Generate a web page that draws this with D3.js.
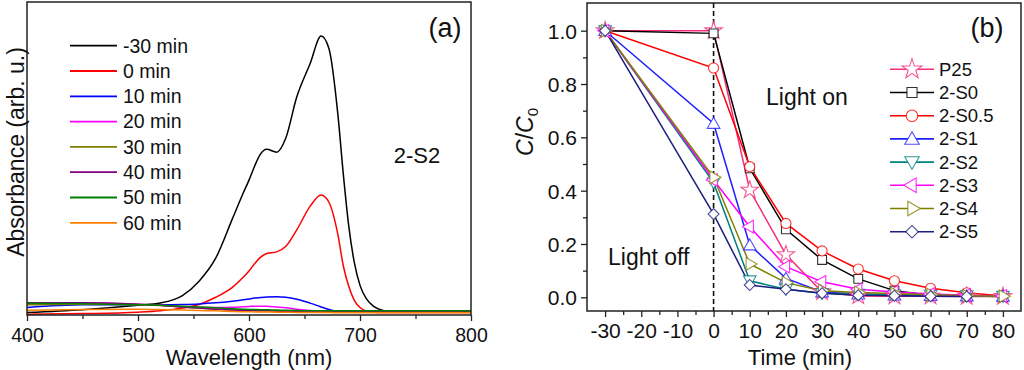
<!DOCTYPE html>
<html><head><meta charset="utf-8">
<script src="https://cdn.jsdelivr.net/npm/d3@7"></script>
<style>
html,body{margin:0;padding:0;background:#fff;}
svg text{font-family:"Liberation Sans",Arial,sans-serif;fill:#111;}
</style></head>
<body><svg id="c" width="1024" height="370"></svg>
<script>
// ---------- Panel (a) data ----------
const wavelengths = [400,450,500,520,540,555,570,585,595,600,605,610,616,625,633,643,655,665,672,680,685,690,695,700,706,712,720,730,750,800];
const specLabels = ["-30 min","0 min","10 min","20 min","30 min","40 min","50 min","60 min"];
const specColors = ["#000000","#ff0000","#0000ff","#ff00ff","#808000","#800080","#008000","#ff8000"];
const absM30 = [0.002,0.012,0.028,0.036,0.063,0.115,0.198,0.340,0.435,0.480,0.530,0.572,0.591,0.581,0.630,0.780,0.900,1.000,0.955,0.720,0.500,0.310,0.180,0.100,0.050,0.025,0.010,0.004,0.003,0.003];
const abs0   = [-0.004,-0.002,0.003,0.008,0.018,0.031,0.057,0.093,0.130,0.152,0.178,0.200,0.215,0.221,0.240,0.300,0.385,0.426,0.400,0.285,0.170,0.095,0.045,0.020,0.007,0.003,0.002,0.002,0.002,0.002];
const abs10  = [0.020,0.030,0.030,0.030,0.031,0.033,0.037,0.043,0.048,0.051,0.054,0.056,0.058,0.059,0.057,0.050,0.036,0.022,0.013,0.006,0.004,0.003,0.003,0.003,0.003,0.003,0.003,0.003,0.003,0.003];
const abs20  = [0.033,0.035,0.032,0.028,0.022,0.020,0.020,0.021,0.023,0.024,0.025,0.025,0.025,0.022,0.019,0.014,0.009,0.006,0.005,0.004,0.003,0.003,0.003,0.003,0.003,0.003,0.003,0.003,0.003,0.003];
const abs30  = [0.030,0.032,0.030,0.027,0.022,0.018,0.015,0.012,0.011,0.010,0.010,0.009,0.009,0.008,0.007,0.006,0.005,0.005,0.004,0.004,0.004,0.004,0.004,0.004,0.004,0.004,0.004,0.004,0.004,0.004];
const abs40  = [0.037,0.037,0.032,0.028,0.022,0.018,0.014,0.011,0.010,0.009,0.009,0.008,0.008,0.007,0.006,0.005,0.005,0.004,0.004,0.004,0.004,0.004,0.004,0.004,0.004,0.004,0.004,0.004,0.004,0.004];
const abs50  = [0.035,0.034,0.030,0.028,0.025,0.022,0.019,0.016,0.014,0.013,0.013,0.012,0.012,0.011,0.010,0.009,0.008,0.008,0.008,0.008,0.008,0.008,0.008,0.008,0.008,0.008,0.008,0.008,0.008,0.008];
const abs60  = [0.010,0.013,0.014,0.013,0.011,0.009,0.008,0.006,0.005,0.005,0.004,0.004,0.004,0.003,0.003,0.002,0.002,0.002,0.002,0.001,0.001,0.001,0.001,0.001,0.001,0.001,0.001,0.001,0.001,0.001];
const specSeries = [absM30,abs0,abs10,abs20,abs30,abs40,abs50,abs60];
const wlTicks = [400,500,600,700,800];
const wlMinor = [450,550,650,750];

// ---------- Panel (b) data ----------
const times = [-30,0,10,20,30,40,50,60,70,80];
const sampleNames = ["P25","2-S0","2-S0.5","2-S1","2-S2","2-S3","2-S4","2-S5"];
const sampleColors = ["#f72c7a","#000000","#ff0000","#2020ff","#008080","#ff00ff","#808000","#1c1c80"];
const cP25  = [1.0,1.0,0.402,0.160,0.020,0.005,0.004,0.004,0.003,0.003];
const cS0   = [1.0,0.99,0.484,0.255,0.140,0.069,0.025,0.008,0.005,0.003];
const cS05  = [1.0,0.86,0.490,0.277,0.174,0.106,0.062,0.034,0.017,0.005];
const cS1   = [1.0,0.652,0.196,0.071,0.020,0.012,0.008,0.006,0.005,0.004];
const cS2   = [1.0,0.430,0.062,0.030,0.015,0.012,0.010,0.008,0.006,0.004];
const cS3   = [1.0,0.440,0.265,0.115,0.058,0.030,0.020,0.012,0.008,0.005];
const cS4   = [1.0,0.450,0.125,0.055,0.025,0.018,0.014,0.010,0.006,0.004];
const cS5   = [1.0,0.312,0.046,0.030,0.015,0.008,0.006,0.004,0.003,null];
const kinSeries = [cP25,cS0,cS05,cS1,cS2,cS3,cS4,cS5];
const timeTicks = [-30,-20,-10,0,10,20,30,40,50,60,70,80];
const timeMinor = [-25,-15,-5,5,15,25,35,45,55,65,75];
const cTicks = [0.0,0.2,0.4,0.6,0.8,1.0];
const cMinor = [0.1,0.3,0.5,0.7,0.9];

const svg = d3.select("#c");
const axisCol = "#222";

// ================= Panel (a) =================
const xA = d3.scaleLinear().domain([400,800]).range([27,471]);
const yA = d3.scaleLinear().domain([-0.007,1.123]).range([315,2]);
const gA = svg.append("g");

svg.append("clipPath").attr("id","clipA").append("rect")
  .attr("x",27).attr("y",2).attr("width",444).attr("height",313);
const lineA = d3.line().x(d=>xA(d[0])).y(d=>yA(d[1])).curve(d3.curveMonotoneX);
specSeries.forEach((s,i)=>{
  gA.append("path").attr("clip-path","url(#clipA)")
    .datum(wavelengths.map((w,j)=>[w,s[j]]))
    .attr("d",lineA).attr("fill","none")
    .attr("stroke",specColors[i]).attr("stroke-width",1.5);
});

// axes a
const axA = gA.append("g").attr("transform","translate(0,315)")
  .call(d3.axisBottom(xA).tickValues(wlTicks).tickSize(6).tickSizeOuter(0).tickFormat(d=>String(d)));
axA.select(".domain").remove();
axA.selectAll("line").attr("stroke",axisCol).attr("stroke-width",1.3);
axA.selectAll("text").attr("font-size",19.5).attr("dy",0).attr("y",27);
const axAm = gA.append("g").attr("transform","translate(0,315)")
  .call(d3.axisBottom(xA).tickValues(wlMinor).tickSize(4).tickFormat(""));
axAm.select(".domain").remove();
axAm.selectAll("line").attr("stroke",axisCol).attr("stroke-width",1.3);
gA.append("rect").attr("x",27).attr("y",2).attr("width",444).attr("height",313)
  .attr("fill","none").attr("stroke",axisCol).attr("stroke-width",1.5);

gA.append("text").attr("x",249).attr("y",365).attr("text-anchor","middle")
  .attr("font-size",22).text("Wavelength (nm)");
gA.append("text").attr("transform","translate(24,152) rotate(-90)").attr("text-anchor","middle")
  .attr("font-size",23).text("Absorbance (arb. u.)");
gA.append("text").attr("x",445).attr("y",37).attr("text-anchor","middle").attr("font-size",27).text("(a)");
gA.append("text").attr("x",417).attr("y",162.5).attr("text-anchor","middle").attr("font-size",22).text("2-S2");

// legend a
specLabels.forEach((lab,i)=>{
  const y = 45.7 + i*25.3;
  gA.append("line").attr("x1",70).attr("x2",117).attr("y1",y).attr("y2",y)
    .attr("stroke",specColors[i]).attr("stroke-width",1.8);
  gA.append("text").attr("x",123).attr("y",y+6.8).attr("font-size",19.5).text(lab);
});

// ================= Panel (b) =================
const xB = d3.scaleLinear().domain([-35,85]).range([587,1021]);
const yB = d3.scaleLinear().domain([-0.0514,1.1039]).range([311,3]);
const gB = svg.append("g");

// dashed line at t=0
gB.append("line").attr("x1",xB(0)).attr("x2",xB(0)).attr("y1",3).attr("y2",311)
  .attr("stroke","#111").attr("stroke-width",1.6).attr("stroke-dasharray","5,3");

function markerPath(i, size){
  const syms = [d3.symbolStar,d3.symbolSquare,d3.symbolCircle,d3.symbolTriangle,d3.symbolTriangle,d3.symbolTriangle,d3.symbolTriangle,d3.symbolSquare];
  const sizes = [95,78,80,70,70,70,70,60];
  return d3.symbol().type(syms[i]).size(sizes[i]*(size||1))();
}
const markerRot = [0,0,0,0,180,-90,90,45];
const markerDy = [0,0,0,1.2,-1.2,0,0,0];

const lineB = d3.line().x(d=>xB(d[0])).y(d=>yB(d[1]));
kinSeries.forEach((s,i)=>{
  const pts = times.map((t,j)=>[t,s[j]]).filter(d=>d[1]!=null);
  gB.append("path").datum(pts).attr("d",lineB).attr("fill","none")
    .attr("stroke",sampleColors[i]).attr("stroke-width",1.5);
});
kinSeries.forEach((s,i)=>{
  const pts = times.map((t,j)=>[t,s[j]]).filter(d=>d[1]!=null);
  gB.selectAll(null).data(pts).enter().append("path")
    .attr("d",markerPath(i))
    .attr("transform",d=>`translate(${xB(d[0])},${yB(d[1])+markerDy[i]}) rotate(${markerRot[i]})`)
    .attr("fill","#fff").attr("stroke",sampleColors[i]).attr("stroke-opacity",0.8).attr("stroke-width",1.1);
});

// axes b
const axBx = gB.append("g").attr("transform","translate(0,311)")
  .call(d3.axisBottom(xB).tickValues(timeTicks).tickSize(6).tickSizeOuter(0).tickFormat(d=>String(d)));
axBx.select(".domain").remove();
axBx.selectAll("line").attr("stroke",axisCol).attr("stroke-width",1.3);
axBx.selectAll("text").attr("font-size",21).attr("y",27).attr("dy",0);
const axBxm = gB.append("g").attr("transform","translate(0,311)")
  .call(d3.axisBottom(xB).tickValues(timeMinor).tickSize(4).tickFormat(""));
axBxm.select(".domain").remove();
axBxm.selectAll("line").attr("stroke",axisCol).attr("stroke-width",1.3);

const axBy = gB.append("g").attr("transform","translate(587,0)")
  .call(d3.axisLeft(yB).tickValues(cTicks).tickSize(6).tickSizeOuter(0).tickFormat(d3.format(".1f")));
axBy.select(".domain").remove();
axBy.selectAll("line").attr("stroke",axisCol).attr("stroke-width",1.3);
axBy.selectAll("text").attr("font-size",21).attr("x",-10).attr("dy","0.36em");
const axBym = gB.append("g").attr("transform","translate(587,0)")
  .call(d3.axisLeft(yB).tickValues(cMinor).tickSize(4).tickFormat(""));
axBym.select(".domain").remove();
axBym.selectAll("line").attr("stroke",axisCol).attr("stroke-width",1.3);

gB.append("rect").attr("x",587).attr("y",3).attr("width",434).attr("height",308)
  .attr("fill","none").attr("stroke",axisCol).attr("stroke-width",1.5);

gB.append("text").attr("x",800).attr("y",365).attr("text-anchor","middle")
  .attr("font-size",22).text("Time (min)");
const yt = gB.append("text").attr("transform","translate(533,132) rotate(-90)").attr("text-anchor","middle")
  .attr("font-size",23);
yt.append("tspan").attr("font-style","italic").text("C");
yt.append("tspan").text("/");
yt.append("tspan").attr("font-style","italic").text("C");
yt.append("tspan").attr("font-size",15).attr("dy",5).text("0");

gB.append("text").attr("x",987).attr("y",37).attr("text-anchor","middle").attr("font-size",27).text("(b)");
gB.append("text").attr("x",766).attr("y",104.5).attr("font-size",23).text("Light on");
gB.append("text").attr("x",608).attr("y",265).attr("font-size",23).text("Light off");

// legend b
sampleNames.forEach((nm,i)=>{
  const y = 69.3 + i*23.2;
  gB.append("line").attr("x1",890).attr("x2",934).attr("y1",y).attr("y2",y)
    .attr("stroke",sampleColors[i]).attr("stroke-width",1.6);
  gB.append("path").attr("d",markerPath(i,1.3))
    .attr("transform",`translate(912,${y+markerDy[i]}) rotate(${markerRot[i]})`)
    .attr("fill","#fff").attr("stroke",sampleColors[i]).attr("stroke-opacity",0.8).attr("stroke-width",1.1);
  gB.append("text").attr("x",939).attr("y",y+6.5).attr("font-size",18.5).text(nm);
});
</script></body></html>
